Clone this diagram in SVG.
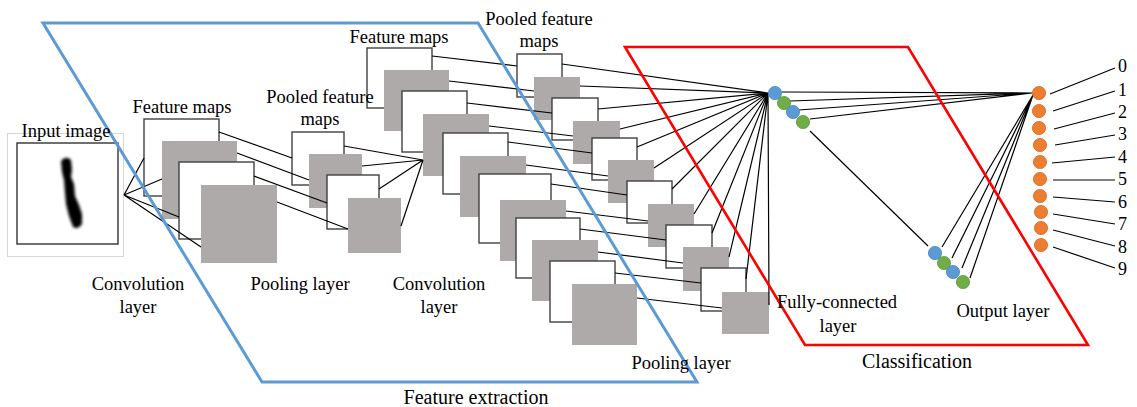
<svg xmlns="http://www.w3.org/2000/svg" width="1137" height="407" viewBox="0 0 1137 407">
  <style>
    .lbl { font-family: "Liberation Serif", "Times New Roman", serif; font-size: 18.5px; fill: #000; }
    .ttl { font-family: "Liberation Serif", "Times New Roman", serif; font-size: 20px; fill: #000; }
    .dig { font-family: "Liberation Serif", "Times New Roman", serif; font-size: 18px; fill: #000; }
    .w { fill: #fff; stroke: #404040; stroke-width: 1.4; }
    .g { fill: #aeaaaa; }
    .ln { stroke: #000; stroke-width: 1.2; fill: none; }
    .nb { fill: #5b9bd5; stroke: #4a86bd; stroke-width: 0.8; }
    .ng { fill: #70ad47; stroke: #5f9a3a; stroke-width: 0.8; }
    .no { fill: #ed7d31; stroke: #d46a22; stroke-width: 0.8; }
  </style>
  <defs>
    <filter id="soft" x="-50%" y="-20%" width="200%" height="140%">
      <feGaussianBlur stdDeviation="1.4"/>
    </filter>
  </defs>

  <rect width="1137" height="407" fill="#fff"/>

  <!-- input image -->
  <g id="input">
    <rect x="7.5" y="133.5" width="116" height="123" fill="#fff" stroke="#d6d6d6" stroke-width="1"/>
    <rect x="17" y="143" width="101" height="101" fill="#fff" stroke="#333" stroke-width="1.4"/>
    <path d="M61 161 Q66 155 71 160 L72 170 L71 177 L74 184 L75 196 L79 205 L82 214 L82 224 Q78 230 73 227 L69 216 L66 204 L65 193 L64 180 L62 172 Z" fill="#000" filter="url(#soft)"/>
  </g>

  <!-- first convolution layer -->
  <g id="conv1">
    <rect class="w" x="144" y="119" width="75" height="77"/>
    <rect class="g" x="162" y="141" width="75" height="78"/>
    <rect class="w" x="179" y="162" width="75" height="77"/>
    <rect class="g" x="201" y="185" width="76" height="78"/>
  </g>

  <!-- first pooling layer -->
  <g id="pool1">
    <rect class="w" x="292" y="132" width="52" height="53"/>
    <rect class="g" x="309" y="154" width="53" height="54"/>
    <rect class="w" x="327" y="175" width="52" height="54"/>
    <rect class="g" x="348" y="198" width="53" height="55"/>
  </g>

  <!-- second convolution layer -->
  <g id="conv2">
    <rect class="w" x="367" y="48" width="65" height="60"/>
    <rect class="g" x="384" y="70" width="65" height="61"/>
    <rect class="w" x="402" y="91" width="65" height="61"/>
    <rect class="g" x="423" y="114" width="66" height="62"/>
    <rect class="w" x="443" y="133" width="65" height="61"/>
    <rect class="g" x="460" y="156" width="66" height="61"/>
    <rect class="w" x="479" y="174" width="72" height="69"/>
    <rect class="g" x="500" y="200" width="66" height="61"/>
    <rect class="w" x="516" y="218" width="64" height="60"/>
    <rect class="g" x="532" y="240" width="66" height="61"/>
    <rect class="w" x="550" y="261" width="65" height="61"/>
    <rect class="g" x="572" y="284" width="65" height="61"/>
  </g>

  <!-- second pooling layer -->
  <g id="pool2">
    <rect class="w" x="517" y="54" width="45" height="43"/>
    <rect class="g" x="534" y="77" width="46" height="43"/>
    <rect class="w" x="552" y="98" width="46" height="42"/>
    <rect class="g" x="573" y="121" width="47" height="43"/>
    <rect class="w" x="592" y="138" width="45" height="42"/>
    <rect class="g" x="608" y="160" width="46" height="43"/>
    <rect class="w" x="627" y="181" width="45" height="42"/>
    <rect class="g" x="648" y="204" width="46" height="43"/>
    <rect class="w" x="666" y="225" width="46" height="43"/>
    <rect class="g" x="683" y="247" width="46" height="44"/>
    <rect class="w" x="701" y="268" width="45" height="43"/>
    <rect class="g" x="722" y="292" width="47" height="42"/>
  </g>

  <!-- connectors -->
  <g id="connectors" class="ln">
    <!-- input to first convolution -->
    <path d="M124 195 L144 158 M124 195 L162 179 M124 195 L179 217 M124 195 L201 247"/>
    <!-- first convolution to first pooling -->
    <path d="M219 132 L292 158 M237 153 L309 180 M254 176 L327 203 M277 202 L348 229"/>
    <!-- first pooling to second convolution -->
    <path d="M344 146 L423 160 M362 166 L423 160 M379 189 L423 160 M401 226 L423 160"/>
    <!-- second convolution to second pooling -->
    <path d="M432 56 L517 66 M449 81 L534 91 M467 103 L552 113 M489 126 L573 136 M508 142 L592 153 M526 165 L608 176 M551 184 L627 195 M566 211 L648 221 M580 229 L666 240 M598 252 L683 263 M615 273 L701 283 M637 298 L722 308"/>
    <!-- second pooling to fully-connected -->
    <path d="M562 64 L768 93 M580 86 L768 93 M598 109 L768 93 M620 129 L768 93 M637 147 L768 93 M654 168 L768 93 M672 189 L768 93 M694 214 L768 93 M712 233 L768 93 M729 257 L768 93 M746 279 L768 93 M769 305 L768 93"/>
    <!-- fully-connected to output -->
    <path d="M782 92 L1032 93 M790 101 L1032 93 M799 110 L1032 93 M810 119 L1032 93"/>
    <path d="M810 131 L928 246"/>
    <path d="M942 247 L1033 95 M952 258 L1033 95 M962 268 L1033 95 M970 278 L1033 95"/>
    <!-- output nodes to digit labels -->
    <path d="M1050 94 L1115 68 M1053 111 L1115 91 M1054 129 L1115 113 M1055 145 L1115 135 M1052 163 L1115 157 M1053 180 L1115 180 M1053 197 L1115 202 M1053 214 L1115 224 M1053 230 L1115 246 M1053 247 L1115 268"/>
  </g>

  <!-- fully-connected layer nodes -->
  <g id="fc-top">
    <circle class="nb" cx="775" cy="93" r="6.6"/>
    <circle class="ng" cx="784" cy="103" r="6.6"/>
    <circle class="nb" cx="793" cy="112" r="6.6"/>
    <circle class="ng" cx="803" cy="122" r="6.6"/>
  </g>
  <g id="fc-bottom">
    <circle class="nb" cx="935" cy="253" r="6.6"/>
    <circle class="ng" cx="944" cy="263" r="6.6"/>
    <circle class="nb" cx="953" cy="272" r="6.6"/>
    <circle class="ng" cx="963" cy="282" r="6.6"/>
  </g>

  <!-- output layer nodes -->
  <g id="output">
    <circle class="no" cx="1039" cy="93" r="6.6"/>
    <circle class="no" cx="1039" cy="111" r="6.6"/>
    <circle class="no" cx="1039" cy="128" r="6.6"/>
    <circle class="no" cx="1040" cy="145" r="6.6"/>
    <circle class="no" cx="1040" cy="162" r="6.6"/>
    <circle class="no" cx="1040" cy="179" r="6.6"/>
    <circle class="no" cx="1040" cy="196" r="6.6"/>
    <circle class="no" cx="1041" cy="212" r="6.6"/>
    <circle class="no" cx="1041" cy="228" r="6.6"/>
    <circle class="no" cx="1041" cy="245" r="6.6"/>
  </g>

  <!-- section outlines -->
  <g id="feature-extraction">
    <polygon points="43,23 478,23 697,382 262,382" fill="none" stroke="#5b9bd5" stroke-width="3"/>
  </g>
  <g id="classification">
    <polygon points="625,47 908,47 1088,345 805,345" fill="none" stroke="#ff0000" stroke-width="2.6"/>
  </g>

  <!-- labels -->
  <g id="labels">
    <text class="lbl" x="66" y="137" text-anchor="middle">Input image</text>
    <text class="lbl" x="182" y="113" text-anchor="middle">Feature maps</text>
    <text class="lbl" x="320" y="103" text-anchor="middle">Pooled feature</text>
    <text class="lbl" x="320" y="125" text-anchor="middle">maps</text>
    <text class="lbl" x="399" y="43" text-anchor="middle">Feature maps</text>
    <text class="lbl" x="539" y="25" text-anchor="middle">Pooled feature</text>
    <text class="lbl" x="539" y="47" text-anchor="middle">maps</text>
    <text class="lbl" x="138" y="290" text-anchor="middle">Convolution</text>
    <text class="lbl" x="138" y="313" text-anchor="middle">layer</text>
    <text class="lbl" x="300" y="290" text-anchor="middle">Pooling layer</text>
    <text class="lbl" x="439" y="290" text-anchor="middle">Convolution</text>
    <text class="lbl" x="439" y="313" text-anchor="middle">layer</text>
    <text class="lbl" x="681" y="369" text-anchor="middle">Pooling layer</text>
    <text class="lbl" x="837" y="308" text-anchor="middle">Fully-connected</text>
    <text class="lbl" x="838" y="332" text-anchor="middle">layer</text>
    <text class="lbl" x="1003" y="317" text-anchor="middle">Output layer</text>
    <text class="ttl" x="476" y="404" text-anchor="middle">Feature extraction</text>
    <text class="ttl" x="917" y="368" text-anchor="middle">Classification</text>
  </g>
  <g id="digits">
    <text class="dig" x="1118" y="72">0</text>
    <text class="dig" x="1118" y="96">1</text>
    <text class="dig" x="1118" y="118">2</text>
    <text class="dig" x="1118" y="140">3</text>
    <text class="dig" x="1118" y="163">4</text>
    <text class="dig" x="1118" y="185">5</text>
    <text class="dig" x="1118" y="208">6</text>
    <text class="dig" x="1118" y="230">7</text>
    <text class="dig" x="1118" y="253">8</text>
    <text class="dig" x="1118" y="275">9</text>
  </g>
</svg>
